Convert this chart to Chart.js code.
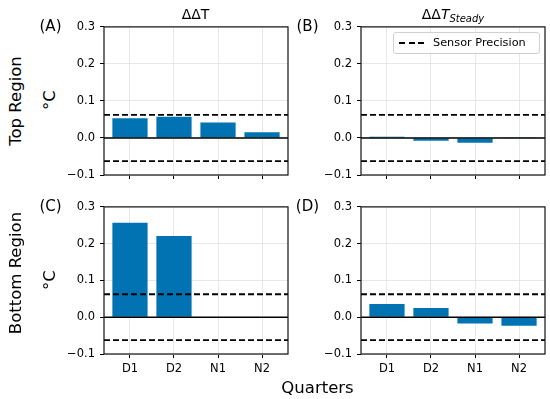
<!DOCTYPE html>
<html><head><meta charset="utf-8">
<script src="https://cdn.jsdelivr.net/npm/chart.js@4"></script>
<style>
body{margin:0;width:550px;height:399px;background:#fff;position:relative;overflow:hidden;font-family:"DejaVu Sans",sans-serif;}
canvas{position:absolute;}
.t{position:absolute;white-space:nowrap;color:#000;line-height:1;transform:translate(-50%,-50%);}
.r{transform:translate(-50%,-50%) rotate(-90deg);}
#legend{position:absolute;left:393px;top:32px;width:145px;height:20px;border:1px solid #d0d0d0;border-radius:3px;background:rgba(255,255,255,0.85);}
#legend .dash{position:absolute;left:5px;top:9px;width:25px;height:2px;background:repeating-linear-gradient(to right,#000 0 6px,transparent 6px 9.5px);}
#legend .lt{position:absolute;left:39px;top:3px;font-size:11.3px;line-height:14px;}
</style></head><body>
<script>
// ---- data ----
const categories = ['D1','D2','N1','N2'];
const topDeltaT = [0.053, 0.057, 0.042, 0.0155];
const topDeltaTSteady = [0.003, -0.0075, -0.013, 0.002];
const bottomDeltaT = [0.257, 0.221, 0, 0];
const bottomDeltaTSteady = [0.036, 0.025, -0.017, -0.023];
const sensorPrecision = 0.0625;
const yTicks = [-0.1, 0.0, 0.1, 0.2, 0.3];
const yMin = -0.1, yMax = 0.3;
const xMin = -0.59, xMax = 3.59;
const legendLabel = 'Sensor Precision';

// ---- layout ----
const AXW = 45, AXH = 30, PADT = 10, PADR = 10;
const panels = [
  {L:104, T:25, W:184, H:150, data:topDeltaT, labels:false},
  {L:361, T:25, W:184, H:150, data:topDeltaTSteady, labels:false},
  {L:104, T:205, W:184, H:149, data:bottomDeltaT, labels:true},
  {L:361, T:205, W:184, H:149, data:bottomDeltaTSteady, labels:true}
];

const frame = {
  id:'frame',
  afterDatasetsDraw(chart){
    const {ctx, chartArea:a} = chart;
    ctx.save();
    ctx.strokeStyle = '#111';
    ctx.lineWidth = 1.2;
    ctx.strokeRect(a.left, a.top, a.right - a.left, a.bottom - a.top);
    ctx.restore();
  }
};

const fmt = v => (v < 0 ? '\u2212' : '') + Math.abs(v).toFixed(1);

panels.forEach(p => {
  const c = document.createElement('canvas');
  const cw = p.W + AXW + PADR, ch = p.H + AXH + PADT;
  c.width = cw; c.height = ch;
  c.style.left = (p.L - AXW) + 'px';
  c.style.top = (p.T - PADT) + 'px';
  c.style.width = cw + 'px'; c.style.height = ch + 'px';
  document.body.appendChild(c);
  const hline = (y, dash, w) => ({
    type:'line', data:[{x:xMin, y:y}, {x:xMax, y:y}],
    borderColor:'#000', borderWidth:w, borderDash:dash, pointRadius:0,
    fill:false, order:1, label: dash.length ? legendLabel : 'zero'
  });
  new Chart(c, {
    type:'bar',
    data:{
      datasets:[
        {type:'bar', data:p.data.map((v,i)=>({x:i, y:v})), backgroundColor:'#0173b2',
         borderWidth:0, barPercentage:0.8, categoryPercentage:1, order:2},
        hline(0, [], 1.3),
        hline(sensorPrecision, [6,3], 1.8),
        hline(-sensorPrecision, [6,3], 1.8)
      ]
    },
    options:{
      responsive:false, animation:false, devicePixelRatio:1,
      layout:{padding:{left:0, top:PADT, right:PADR, bottom:0}},
      plugins:{legend:{display:false}, tooltip:{enabled:false}},
      scales:{
        x:{
          type:'linear', min:xMin, max:xMax, offset:false,
          afterBuildTicks: s => { s.ticks = categories.map((c,i)=>({value:i})); },
          afterFit: s => { s.height = AXH; },
          grid:{offset:false, color:'#e2e2e2', lineWidth:0.8, tickColor:'#000', tickLength:4, tickWidth:1},
          border:{display:false},
          ticks:{autoSkip:false, maxRotation:0, padding:4, color:'#000',
                 font:{family:'DejaVu Sans', size:11.5},
                 callback: v => p.labels ? categories[v] : ''}
        },
        y:{
          type:'linear', min:yMin, max:yMax,
          afterBuildTicks: s => { s.ticks = yTicks.map(v=>({value:v})); },
          afterFit: s => { s.width = AXW; },
          grid:{color:'#e2e2e2', lineWidth:0.8, tickColor:'#000', tickLength:4, tickWidth:1},
          border:{display:false},
          ticks:{padding:5, color:'#000', font:{family:'DejaVu Sans', size:11.5}, callback: fmt}
        }
      }
    },
    plugins:[frame]
  });
});

// ---- text ----
function txt(html, x, y, size, cls){
  const d = document.createElement('div');
  d.className = 't' + (cls ? ' ' + cls : '');
  d.innerHTML = html;
  d.style.left = x + 'px'; d.style.top = y + 'px'; d.style.fontSize = size + 'px';
  document.body.appendChild(d);
}
txt('\u0394\u0394T', 195.5, 13.5, 14);
txt('\u0394\u0394<i>T</i><sub style="font-size:10px;vertical-align:-3px"><i>Steady</i></sub>', 453, 15, 14);
txt('(A)', 50.5, 25.5, 15);
txt('(B)', 307.5, 25.5, 15);
txt('(C)', 50.5, 205.5, 15);
txt('(D)', 307.5, 205.5, 15);
txt('Top Region', 15.5, 101, 16.5, 'r');
txt('Bottom Region', 15.5, 272.5, 16.5, 'r');
txt('\u00b0C', 49.5, 99.5, 16.5, 'r');
txt('\u00b0C', 49.5, 280, 16.5, 'r');
txt('Quarters', 317.5, 388, 16.5);

const lg = document.createElement('div');
lg.id = 'legend';
lg.innerHTML = '<div class="dash"></div><div class="lt"></div>';
lg.querySelector('.lt').textContent = legendLabel;
document.body.appendChild(lg);
</script>
</body></html>
